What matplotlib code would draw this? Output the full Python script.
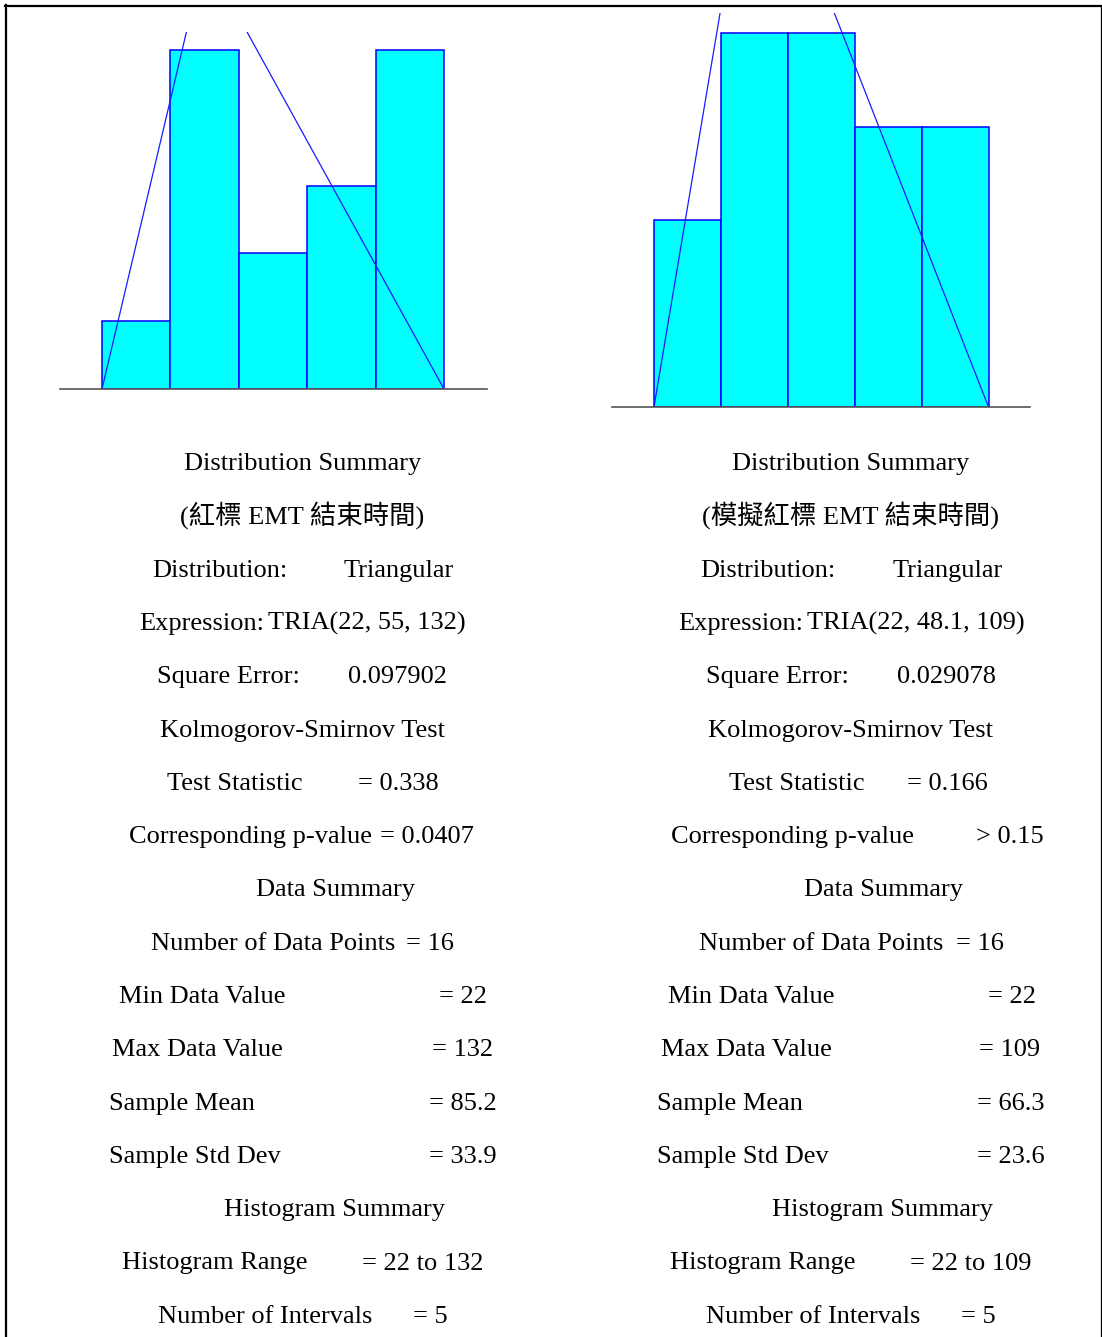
import numpy as np
import matplotlib
matplotlib.use("Agg")
import matplotlib.pyplot as plt
from matplotlib.lines import Line2D

# ---------------- data ----------------
counts_left = [1, 5, 2, 3, 5]
counts_right = [2, 4, 4, 3, 3]
tria_left = (22, 55, 132)      # min, mode, max
tria_right = (22, 48.1, 109)
n_points = 16
n_intervals = 5

title_left = "(紅標 EMT 結束時間)"
title_right = "(模擬紅標 EMT 結束時間)"
expr_left = "TRIA(22, 55, 132)"
expr_right = "TRIA(22, 48.1, 109)"
sq_err_left = "0.097902"
sq_err_right = "0.029078"
test_stat_left = "= 0.338"
test_stat_right = "= 0.166"
pval_left = "= 0.0407"
pval_right = "> 0.15"
min_left, min_right = "= 22", "= 22"
max_left, max_right = "= 132", "= 109"
mean_left, mean_right = "= 85.2", "= 66.3"
std_left, std_right = "= 33.9", "= 23.6"
range_left, range_right = "= 22 to 132", "= 22 to 109"
npts_text = "= 16"
nint_text = "= 5"

W, H = 1102, 1337
fig = plt.figure(figsize=(W / 100, H / 100), dpi=100)
fig.patch.set_facecolor("white")

SERIF = ["Liberation Serif", "Noto Sans CJK TC", "DejaVu Serif"]
FS = 19


def fx(x):
    return x / W


def fy(y):
    return 1 - y / H


def make_hist(px_left, px_right, py_top, py_bottom, xlim, ylim, counts, tria):
    ax = fig.add_axes([fx(px_left), fy(py_bottom), (px_right - px_left) / W,
                       (py_bottom - py_top) / H])
    a, c, b = tria
    edges = np.linspace(a, b, len(counts) + 1)
    width = edges[1] - edges[0]
    ax.bar(edges[:-1], counts, width=width, align="edge", color="#00FFFF",
           edgecolor="#0000FF", linewidth=1.1, zorder=2)
    peak = 2.0 / (b - a) * width * sum(counts)
    ax.plot([a, c, b], [0, peak, 0], color="#1a1aff", linewidth=0.9, zorder=3)
    ax.axhline(0, color="#555555", linewidth=1.2, zorder=4, clip_on=False)
    ax.set_xlim(*xlim)
    ax.set_ylim(*ylim)
    ax.axis("off")
    return ax


make_hist(60, 487, 32, 389, (8.49, 145.83), (0, 5.265), counts_left, tria_left)
make_hist(612, 1030, 13, 407, (11.08, 119.79), (0, 4.214), counts_right, tria_right)

# ---------------- text ----------------
base0 = 470
step = 53.3


def T(x, row, s, ha="left"):
    fig.text(fx(x), fy(base0 + step * row), s, ha=ha, va="baseline",
             fontsize=FS, family=SERIF, color="black")


cols = [
    dict(c1=302.5, c2=335, title=title_left, expr=expr_left, sq=sq_err_left,
         ts=test_stat_left, pv=pval_left, pvx=380, mn=min_left, mx=max_left,
         me=mean_left, sd=std_left, rg=range_left,
         xs=dict(dist=(152, 344), expr=(139, 268), sq=(157, 348), ts=(167, 358),
                 pv=129, np=(151, 406), mn=(119, 439), mx=(112, 432), me=(109, 429),
                 sd=(109, 429), rg=(122, 362), ni=(158, 413))),
    dict(c1=850.5, c2=883, title=title_right, expr=expr_right, sq=sq_err_right,
         ts=test_stat_right, pv=pval_right, pvx=976, mn=min_right, mx=max_right,
         me=mean_right, sd=std_right, rg=range_right,
         xs=dict(dist=(700, 893), expr=(678, 807), sq=(706, 897), ts=(729, 907),
                 pv=671, np=(699, 956), mn=(668, 988), mx=(661, 979), me=(657, 977),
                 sd=(657, 977), rg=(670, 910), ni=(706, 961))),
]

for col in cols:
    xs = col["xs"]
    T(col["c1"], 0, "Distribution Summary", ha="center")
    T(col["c1"], 1, col["title"], ha="center")
    T(xs["dist"][0], 2, "Distribution:")
    T(xs["dist"][1], 2, "Triangular")
    T(xs["expr"][0], 3, "Expression:")
    T(xs["expr"][1], 3, col["expr"])
    T(xs["sq"][0], 4, "Square Error:")
    T(xs["sq"][1], 4, col["sq"])
    T(col["c1"], 5, "Kolmogorov-Smirnov Test", ha="center")
    T(xs["ts"][0], 6, "Test Statistic")
    T(xs["ts"][1], 6, col["ts"])
    T(xs["pv"], 7, "Corresponding p-value")
    T(col["pvx"], 7, col["pv"])
    T(col["c2"], 8, "Data Summary", ha="center")
    T(xs["np"][0], 9, "Number of Data Points")
    T(xs["np"][1], 9, npts_text)
    T(xs["mn"][0], 10, "Min Data Value")
    T(xs["mn"][1], 10, col["mn"])
    T(xs["mx"][0], 11, "Max Data Value")
    T(xs["mx"][1], 11, col["mx"])
    T(xs["me"][0], 12, "Sample Mean")
    T(xs["me"][1], 12, col["me"])
    T(xs["sd"][0], 13, "Sample Std Dev")
    T(xs["sd"][1], 13, col["sd"])
    T(col["c2"], 14, "Histogram Summary", ha="center")
    T(xs["rg"][0], 15, "Histogram Range")
    T(xs["rg"][1], 15, col["rg"])
    T(xs["ni"][0], 16, "Number of Intervals")
    T(xs["ni"][1], 16, nint_text)

# ---------------- border ----------------
fig.add_artist(Line2D([fx(5), fx(1101)], [fy(6), fy(6)], color="black", linewidth=1.6))
fig.add_artist(Line2D([fx(6), fx(6)], [fy(5), fy(1337)], color="black", linewidth=1.6))
fig.add_artist(Line2D([fx(1100.5), fx(1100.5)], [fy(5), fy(1337)], color="black", linewidth=0.9))

fig.savefig("out.png", dpi=100, facecolor="white")
